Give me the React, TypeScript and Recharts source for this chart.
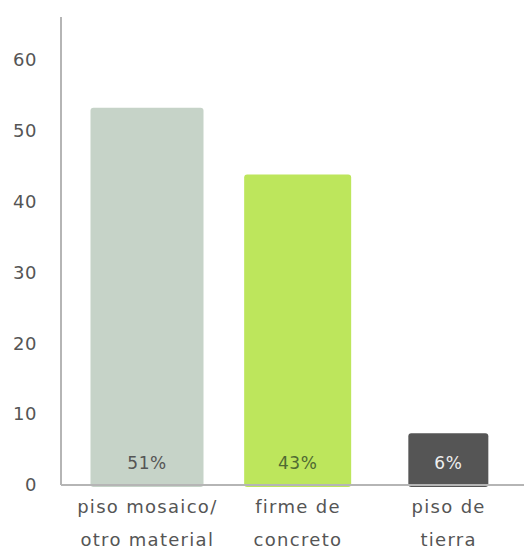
import { BarChart, Bar, XAxis, YAxis, LabelList } from "recharts"

const categories = ["piso mosaico/\notro material", "firme de\nconcreto", "piso de\ntierra"]
const values = [53.2, 43.8, 7.3]
const pctLabels = ["51%", "43%", "6%"]
const yTicks = [0, 10, 20, 30, 40, 50, 60]

const barColors = ["#c6d3c8", "#bde65c", "#555555"]
const labelColors = ["#555555", "#4f6a33", "#eeeeee"]
const barWidths = [113, 107, 80]
const font = "'DejaVu Sans', sans-serif"

const data = categories.map((c, i) => ({ name: c, value: values[i], pct: pctLabels[i] }))

// barras de distinto ancho, centradas en su categoría
const BarShape = (props: any) => {
  const { x, y, width, height, index } = props
  const w = barWidths[index]
  const cx = x + width / 2
  return <rect x={cx - w / 2} y={y} width={w} height={height + 2} rx={3} ry={3} fill={barColors[index]} />
}

const CatTick = (props: any) => {
  const { x, y, payload } = props
  const lines = String(payload.value).split("\n")
  return (
    <text x={x} y={y} textAnchor="middle" fill="#555" fontSize={18} letterSpacing={1.3} fontFamily={font}>
      {lines.map((l, i) => (
        <tspan key={i} x={x} dy={i === 0 ? 20 : 33}>{l}</tspan>
      ))}
    </text>
  )
}

const PctLabel = (props: any) => {
  const { x, y, width, height, index } = props
  return (
    <text x={x + width / 2} y={y + height - 16} textAnchor="middle" fill={labelColors[index]} fontSize={17} letterSpacing={0.5} fontFamily={font}>
      {pctLabels[index]}
    </text>
  )
}

export default function App() {
  return (
    <div style={{ position: "absolute", left: 0, top: 0, background: "#fff" }}>
      <BarChart width={524} height={551} data={data} margin={{ top: 17, right: 0, left: 0, bottom: 6 }}>
        <XAxis
          dataKey="name"
          height={60}
          interval={0}
          tickLine={false}
          axisLine={{ stroke: "#b5b5b5", strokeWidth: 2 }}
          padding={{ left: 11, right: 0 }}
          tick={<CatTick />}
        />
        <YAxis
          width={61}
          domain={[0, 66]}
          ticks={yTicks}
          interval={0}
          tickLine={false}
          tickMargin={18}
          axisLine={{ stroke: "#b5b5b5", strokeWidth: 2 }}
          tick={{ fill: "#555", fontSize: 18, fontFamily: font, letterSpacing: 0.5 }}
        />
        <Bar dataKey="value" barSize={100} shape={<BarShape />} isAnimationActive={false}>
          <LabelList dataKey="pct" content={<PctLabel />} />
        </Bar>
      </BarChart>
    </div>
  )
}
